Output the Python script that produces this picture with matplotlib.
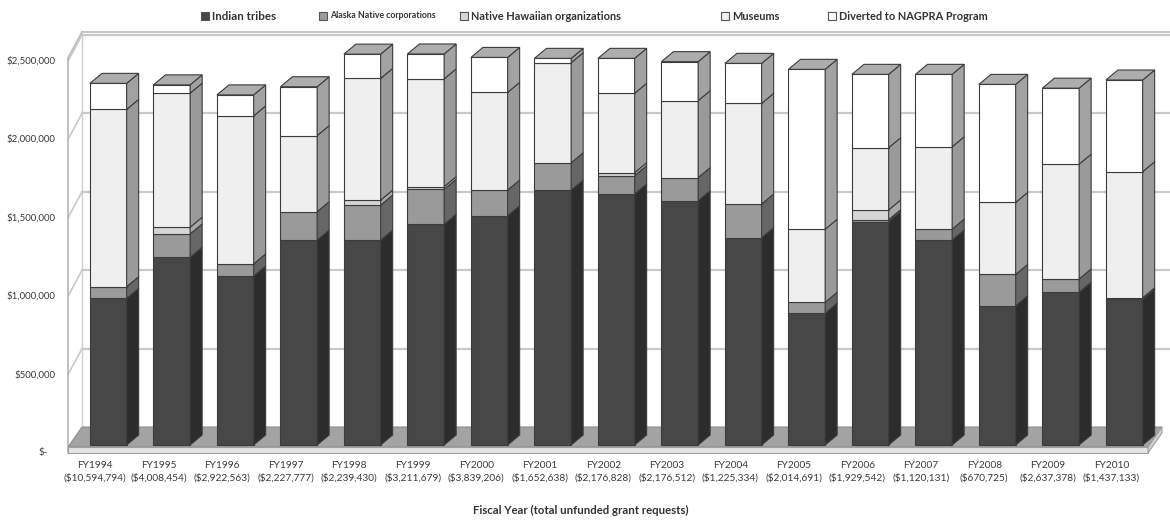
import matplotlib
matplotlib.use("Agg")
import matplotlib.pyplot as plt
from matplotlib.patches import Polygon, Rectangle

plt.rcParams['font.family'] = ['Lato', 'DejaVu Sans']

# ---- data -------------------------------------------------------------
years = ['FY1994', 'FY1995', 'FY1996', 'FY1997', 'FY1998', 'FY1999', 'FY2000',
         'FY2001', 'FY2002', 'FY2003', 'FY2004', 'FY2005', 'FY2006', 'FY2007',
         'FY2008', 'FY2009', 'FY2010']
unfunded = ['($10,594,794)', '($4,008,454)', '($2,922,563)', '($2,227,777)',
            '($2,239,430)', '($3,211,679)', '($3,839,206)', '($1,652,638)',
            '($2,176,828)', '($2,176,512)', '($1,225,334)', '($2,014,691)',
            '($1,929,542)', '($1,120,131)', '($670,725)', '($2,637,378)',
            '($1,437,133)']

indian_tribes = [935600, 1197000, 1078000, 1307000, 1307000, 1408000, 1462000,
                 1626000, 1601000, 1558000, 1322000, 840000, 1424000, 1307000,
                 888000, 974000, 929000]
alaska_native = [74000, 149000, 77000, 181000, 223000, 223000, 164000, 174000,
                 117000, 147000, 215000, 70000, 13000, 70000, 200000, 85000,
                 10000]
native_hawaiian = [0, 43000, 0, 0, 32000, 17000, 0, 0, 19000, 0, 0, 0, 62000,
                   0, 0, 0, 0]
museums = [1131000, 855000, 944000, 485000, 776000, 687000, 623000, 638000,
           506000, 491000, 642000, 466000, 397000, 525000, 459000, 732000,
           804000]
diverted = [166000, 53000, 134000, 312000, 155000, 159000, 223000, 28000,
            223000, 249000, 255000, 1020000, 468000, 462000, 753000, 485000,
            585000]

series = [indian_tribes, alaska_native, native_hawaiian, museums, diverted]
series_names = ['Indian tribes', 'Alaska Native corporations',
                'Native Hawaiian organizations', 'Museums',
                'Diverted to NAGPRA Program']
y_ticks = [0, 500000, 1000000, 1500000, 2000000, 2500000]
y_tick_labels = ['$-', '$500,000', '$1,000,000', '$1,500,000', '$2,000,000',
                 '$2,500,000']

# ---- styling ----------------------------------------------------------
front_colors = ['#474747', '#9a9a9a', '#d6d6d6', '#efefef', '#ffffff']
side_colors = ['#2c2c2c', '#666666', '#a8a8a8', '#9a9a9a', '#a2a2a2']
top_color = '#adadad'
edge = '#3c3c3c'
grid_color = '#c9c9c9'

W, H = 1170, 526
fig = plt.figure(figsize=(W / 100, H / 100), dpi=100)
ax = fig.add_axes([0, 0, 1, 1])

# scale: one category per PITCH pixels, VAL_PER_PX dollars per pixel
X0, PITCH = 108.3, 63.5
Y0, VAL_PER_PX = 445.0, 6378.0
ax.set_xlim(-X0 / PITCH, (W - X0) / PITCH)
ax.set_ylim((Y0 - H) * VAL_PER_PX, Y0 * VAL_PER_PX)
ax.axis('off')


def hx(px):
    """horizontal pixel offset -> category units"""
    return px / PITCH


def vy(px):
    """vertical pixel offset (upwards) -> dollars"""
    return px * VAL_PER_PX


n = len(years)
bar_w = hx(36.7)
bar_dx, bar_dy = hx(12), vy(10)          # bar depth

# box (walls + floor) geometry
left_front = hx(68 - X0)
wall_dx = hx(14)
right_front = hx(1148 - X0)
front_base = vy(-8)                      # front edge of floor (value 0 at labels)
floor_top_front = vy(-2)
back_base = vy(18)                       # back wall zero line
wall_top = 2520000

# back wall
ax.add_patch(Polygon([(left_front + wall_dx, back_base),
                      (hx(W - X0) + 1, back_base),
                      (hx(W - X0) + 1, back_base + wall_top),
                      (left_front + wall_dx, back_base + wall_top)],
                     closed=True, facecolor='white', edgecolor='none', zorder=0))
ax.plot([left_front + wall_dx, hx(W - X0) + 1],
        [back_base + wall_top] * 2, color='#bdbdbd', lw=1.2, zorder=1)
ax.plot([left_front + wall_dx] * 2, [back_base, back_base + wall_top],
        color='#d0d0d0', lw=1.0, zorder=1)
for v in y_ticks[1:]:
    ax.plot([left_front + wall_dx, hx(W - X0) + 1], [back_base + v] * 2,
            color=grid_color, lw=1.6, zorder=1)
    ax.plot([left_front, left_front + wall_dx],
            [front_base + v, back_base + v], color=grid_color, lw=1.2, zorder=1)

# left wall front edge
ax.plot([left_front, left_front], [front_base, front_base + wall_top],
        color='#b5b5b5', lw=1.2, zorder=1)
ax.plot([left_front, left_front + wall_dx],
        [front_base + wall_top, back_base + wall_top],
        color='#bdbdbd', lw=1.2, zorder=1)

# floor
ax.add_patch(Polygon([(left_front, floor_top_front), (right_front, floor_top_front),
                      (right_front + wall_dx, back_base),
                      (left_front + wall_dx, back_base)],
                     closed=True, facecolor='#a3a3a3', edgecolor='#8f8f8f',
                     lw=0.8, zorder=2))
ax.add_patch(Polygon([(left_front, front_base), (right_front, front_base),
                      (right_front, floor_top_front), (left_front, floor_top_front)],
                     closed=True, facecolor='#e4e4e4', edgecolor='#a0a0a0',
                     lw=0.8, zorder=2))
ax.add_patch(Polygon([(right_front, front_base),
                      (right_front + wall_dx, back_base - (floor_top_front - front_base)),
                      (right_front + wall_dx, back_base),
                      (right_front, floor_top_front)],
                     closed=True, facecolor='#d0d0d0', edgecolor='#a0a0a0',
                     lw=0.8, zorder=2))

# stacked 3-D bars
for i in range(n):
    x0, x1 = i - bar_w / 2, i + bar_w / 2
    bottom = 0.0
    for s, vals in enumerate(series):
        h = vals[i]
        if h <= 0:
            continue
        top = bottom + h
        ax.add_patch(Rectangle((x0, bottom), bar_w, h, facecolor=front_colors[s],
                               edgecolor=edge, lw=0.8, zorder=3))
        ax.add_patch(Polygon([(x1, bottom), (x1 + bar_dx, bottom + bar_dy),
                              (x1 + bar_dx, top + bar_dy), (x1, top)],
                             closed=True, facecolor=side_colors[s],
                             edgecolor=edge, lw=0.8, zorder=3))
        bottom = top
    ax.add_patch(Polygon([(x0, bottom), (x1, bottom),
                          (x1 + bar_dx, bottom + bar_dy),
                          (x0 + bar_dx, bottom + bar_dy)],
                         closed=True, facecolor=top_color, edgecolor=edge,
                         lw=0.8, zorder=3))

# value axis labels on the front edge of the left wall
for v, lab in zip(y_ticks, y_tick_labels):
    xl = left_front - hx(13) if v else left_front - hx(20)
    ax.text(xl, front_base + v, lab, ha='right', va='center', fontsize=7,
            color='#3a3a3a')

# category labels
for i in range(n):
    ax.text(i - hx(13), front_base - vy(12), years[i], ha='center', va='center',
            fontsize=7.3, color='#3a3a3a')
    ax.text(i - hx(13), front_base - vy(25), unfunded[i], ha='center',
            va='center', fontsize=7.3, color='#3a3a3a')

ax.text(hx(581 - X0), vy(Y0 - 510), 'Fiscal Year (total unfunded grant requests)',
        ha='center', va='center', fontsize=8.2, fontweight='bold', color='#333333')

# legend
legend_x = [205, 323, 464, 725, 832]
legend_fs = [8.3, 6.3, 7.9, 7.9, 7.9]
for s in range(len(series)):
    lx = legend_x[s]
    fig.add_artist(Rectangle(((lx - 4) / W, 1 - 20 / H), 8 / W, 8 / H,
                             transform=fig.transFigure, facecolor=front_colors[s],
                             edgecolor='#555555', lw=0.8))
    fig.text((lx + 7) / W, 1 - 16 / H, series_names[s], ha='left', va='center',
             fontsize=legend_fs[s], fontweight='bold', color='#333333')

fig.savefig('out.png', dpi=100)
